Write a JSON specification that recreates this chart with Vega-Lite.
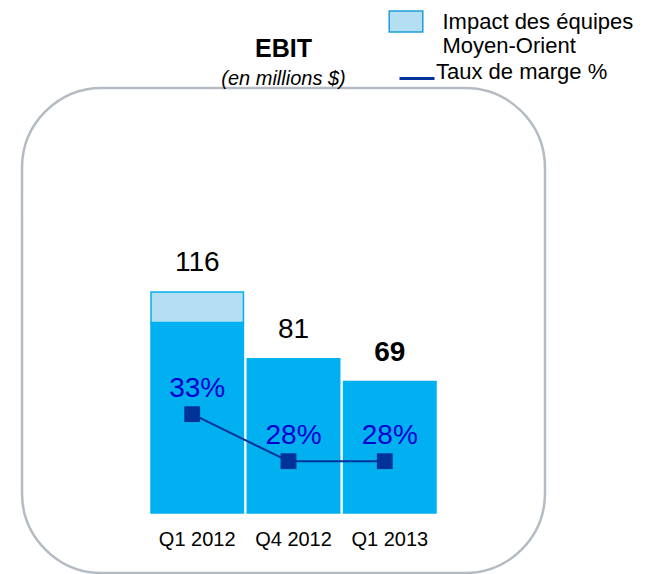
{
  "$schema": "https://vega.github.io/schema/vega-lite/v6.json",
  "width": 523,
  "height": 485,
  "autosize": "none",
  "padding": {"left": 22, "top": 88, "right": 117, "bottom": 1},
  "config": {
    "font": "Liberation Sans",
    "view": {"stroke": "#b4bbc3", "strokeWidth": 2.5, "cornerRadius": 80, "fill": "white"}
  },
  "title": {
    "text": "EBIT",
    "subtitle": "(en millions $)",
    "anchor": "middle",
    "fontSize": 25,
    "fontWeight": "bold",
    "color": "#000000",
    "subtitleFontSize": 20,
    "subtitleFontStyle": "italic",
    "subtitleColor": "#000000",
    "offset": -79,
    "subtitlePadding": 7
  },
  "data": {
    "values": [
      {"periode": "Q1 2012", "ebit": 116, "base": 100, "impact": 16, "marge": 0.33},
      {"periode": "Q4 2012", "ebit": 81, "base": 81, "impact": 0, "marge": 0.28},
      {"periode": "Q1 2013", "ebit": 69, "base": 69, "impact": 0, "marge": 0.28}
    ]
  },
  "encoding": {
    "x": {
      "field": "periode",
      "type": "nominal",
      "sort": null,
      "scale": {"range": [129, 414], "paddingInner": 0.04, "paddingOuter": 0},
      "axis": {
        "title": null,
        "orient": "bottom",
        "offset": -60,
        "domain": false,
        "ticks": false,
        "grid": false,
        "labelAngle": 0,
        "labelFontSize": 20,
        "labelColor": "#000000",
        "labelPadding": 16
      }
    }
  },
  "layer": [
    {
      "layer": [
        {
          "transform": [
            {"fold": ["base", "impact"], "as": ["part", "valeur"]},
            {"filter": "datum.valeur > 0"}
          ],
          "mark": {"type": "bar", "stroke": "#00b0f0", "strokeWidth": 1.5},
          "encoding": {
            "y": {
              "field": "valeur",
              "type": "quantitative",
              "stack": "zero",
              "scale": {"domain": [-31.5, 223.1], "nice": false, "zero": false},
              "axis": null
            },
            "order": {"field": "part", "sort": "ascending"},
            "fill": {
              "field": "part",
              "type": "nominal",
              "scale": {"domain": ["base", "impact"], "range": ["#00b0f0", "#b4dff2"]},
              "legend": {
                "values": ["impact"],
                "orient": "none",
                "legendX": 372.5,
                "legendY": -78,
                "title": null,
                "padding": 0,
                "symbolType": "M-1.6,-1H1.6V1H-1.6Z",
                "symbolSize": 441,
                "symbolStrokeColor": "#1e9fd8",
                "symbolStrokeWidth": 1.5,
                "symbolOpacity": 1,
                "labelExpr": "['Impact des équipes', 'Moyen-Orient']",
                "labelFontSize": 22,
                "labelColor": "#000000",
                "labelOffset": 25,
                "labelLimit": 400,
                "labelBaseline": "middle"
              }
            }
          }
        },
        {
          "transform": [{"filter": "datum.periode !== 'Q1 2013'"}],
          "mark": {"type": "text", "dy": -21, "baseline": "alphabetic", "fontSize": 28, "color": "#000000"},
          "encoding": {
            "y": {"field": "ebit", "type": "quantitative"},
            "text": {"field": "ebit", "type": "quantitative"}
          }
        },
        {
          "transform": [{"filter": "datum.periode === 'Q1 2013'"}],
          "mark": {"type": "text", "dy": -21, "baseline": "alphabetic", "fontSize": 28, "fontWeight": "bold", "color": "#000000"},
          "encoding": {
            "y": {"field": "ebit", "type": "quantitative"},
            "text": {"field": "ebit", "type": "quantitative"}
          }
        }
      ]
    },
    {
      "encoding": {
        "y": {
          "field": "marge",
          "type": "quantitative",
          "scale": {"domain": [0.161, 0.677], "nice": false, "zero": false},
          "axis": null
        }
      },
      "layer": [
        {
          "mark": {"type": "line", "strokeWidth": 2, "xOffset": -5},
          "encoding": {
            "stroke": {
              "datum": "Taux de marge %",
              "type": "nominal",
              "scale": {"range": ["#003399"]},
              "legend": {
                "orient": "none",
                "legendX": 376,
                "legendY": -28.5,
                "title": null,
                "padding": 0,
                "symbolType": "stroke",
                "symbolSize": 1225,
                "symbolStrokeWidth": 3,
                "labelFontSize": 22,
                "labelOffset": 0,
                "labelBaseline": "alphabetic",
                "labelColor": "#000000",
                "labelLimit": 400
              }
            }
          }
        },
        {
          "mark": {"type": "point", "shape": "square", "filled": true, "size": 250, "color": "#003399", "opacity": 1, "xOffset": -5},
          "encoding": {}
        },
        {
          "mark": {"type": "text", "dy": -17, "baseline": "alphabetic", "fontSize": 28, "color": "#0000d0"},
          "encoding": {
            "text": {"field": "marge", "type": "quantitative", "format": ".0%"}
          }
        }
      ]
    }
  ],
  "resolve": {"scale": {"y": "independent"}}
}
